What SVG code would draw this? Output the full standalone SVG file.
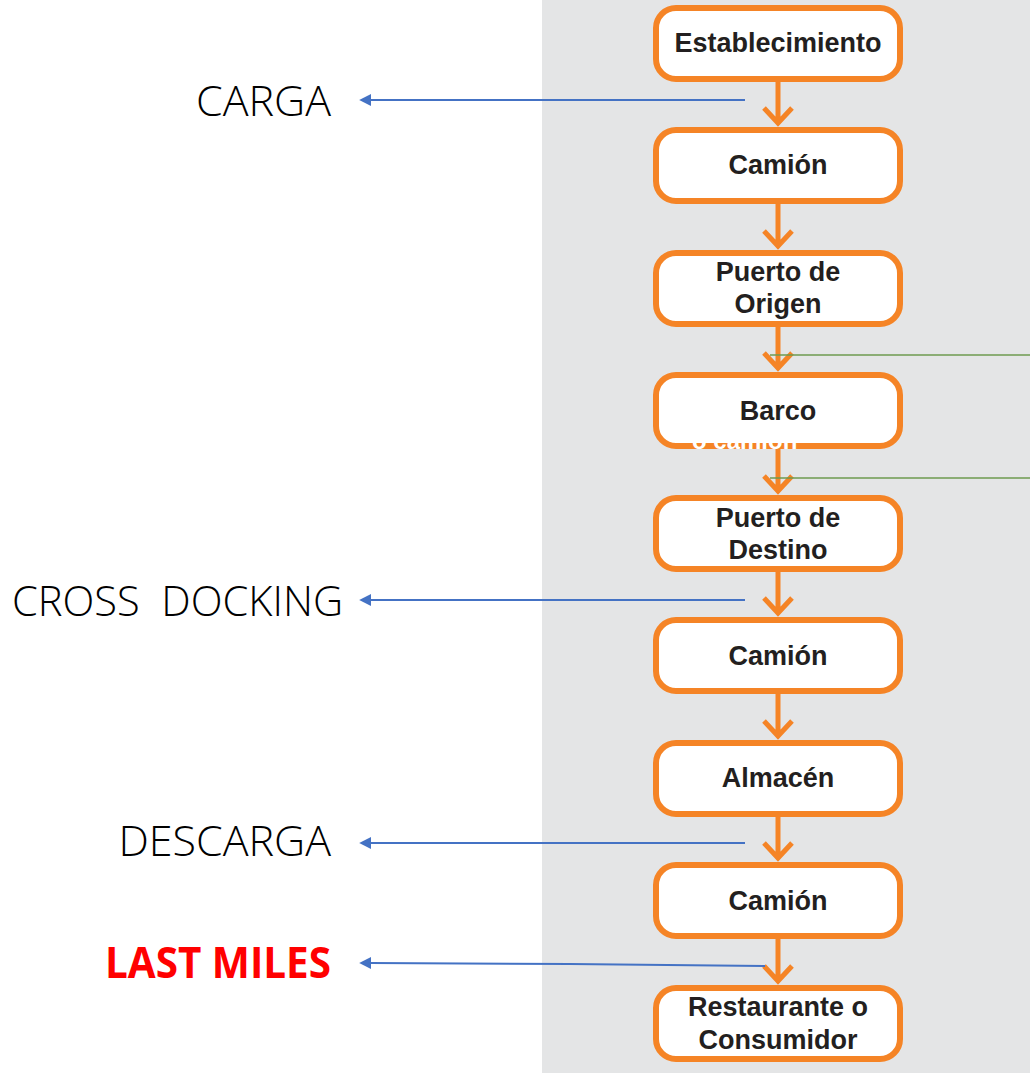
<svg xmlns="http://www.w3.org/2000/svg" width="1030" height="1076" viewBox="0 0 1030 1076">
<style>
.box{fill:#fff;stroke:#F58426;stroke-width:6}
.bt{font-family:"Liberation Sans",Arial,sans-serif;font-weight:bold;font-size:27px;fill:#231F20;text-anchor:middle}
.flow{stroke:#F58426;stroke-width:5;fill:none;stroke-linecap:butt}
.blue{stroke:#4472C4;stroke-width:2;fill:none}
.green{stroke:#6E9A4F;stroke-width:1.5;fill:none}
.lbl{font-family:"Open Sans","Liberation Sans",sans-serif;font-weight:300;font-size:43px;fill:#000;text-anchor:end}
</style>
<defs>
<marker id="ab" viewBox="0 0 10 10" refX="1" refY="5" markerWidth="6" markerHeight="6" orient="auto-start-reverse" markerUnits="strokeWidth">
<path d="M0,0 L10,5 L0,10 z" fill="#4472C4"/>
</marker>
<clipPath id="cb"><rect x="653" y="372" width="250" height="77"/></clipPath>
</defs>
<rect x="0" y="0" width="1030" height="1076" fill="#fff"/>
<rect x="542" y="0" width="488" height="1073" fill="#E4E5E6"/>

<g id="connectors">
<g id="flow">
<path class="flow" d="M778,82 V123 M764,108 L778,123 L792,108"/>
<path class="flow" d="M778,204 V246 M764,231 L778,246 L792,231"/>
<path class="flow" d="M778,327 V368 M764,353 L778,368 L792,353"/>
<path class="flow" d="M778,449 V491 M764,476 L778,491 L792,476"/>
<path class="flow" d="M778,572 V613 M764,598 L778,613 L792,598"/>
<path class="flow" d="M778,694 V736 M764,721 L778,736 L792,721"/>
<path class="flow" d="M778,817 V858 M764,843 L778,858 L792,843"/>
<path class="flow" d="M778,939 V981 M764,966 L778,981 L792,966"/>
</g>
<line class="blue" x1="745" y1="100" x2="370" y2="100" marker-end="url(#ab)"/>
<line class="blue" x1="745" y1="600" x2="370" y2="600" marker-end="url(#ab)"/>
<line class="blue" x1="745" y1="843" x2="370" y2="843" marker-end="url(#ab)"/>
<path class="blue" d="M765,966 L570,964 L370,963" marker-end="url(#ab)"/>
<line class="green" x1="770" y1="355" x2="1030" y2="355"/>
<line class="green" x1="770" y1="478" x2="1030" y2="478"/>
</g>

<g id="n1"><rect class="box" x="656" y="8" width="244" height="71" rx="20"/><text class="bt" x="778" y="52">Establecimiento</text></g>
<g id="n2"><rect class="box" x="656" y="130" width="244" height="71" rx="20"/><text class="bt" x="778" y="174">Camión</text></g>
<g id="n3"><rect class="box" x="656" y="253" width="244" height="71" rx="20"/><text class="bt" x="778" y="281">Puerto de</text><text class="bt" x="778" y="313">Origen</text></g>
<g id="n4"><rect class="box" x="656" y="375" width="244" height="71" rx="20"/><text class="bt" x="778" y="420">Barco</text>
<text x="692" y="449" clip-path="url(#cb)" font-family="Liberation Sans,Arial,sans-serif" font-weight="bold" font-size="24" fill="#fff">o camión</text></g>
<g id="n5"><rect class="box" x="656" y="498" width="244" height="71" rx="20"/><text class="bt" x="778" y="527">Puerto de</text><text class="bt" x="778" y="559">Destino</text></g>
<g id="n6"><rect class="box" x="656" y="620" width="244" height="71" rx="20"/><text class="bt" x="778" y="665">Camión</text></g>
<g id="n7"><rect class="box" x="656" y="743" width="244" height="71" rx="20"/><text class="bt" x="778" y="787">Almacén</text></g>
<g id="n8"><rect class="box" x="656" y="865" width="244" height="71" rx="20"/><text class="bt" x="778" y="910">Camión</text></g>
<g id="n9"><rect class="box" x="656" y="988" width="244" height="71" rx="20"/><text class="bt" x="778" y="1016">Restaurante o</text><text class="bt" x="778" y="1049">Consumidor</text></g>

<g id="labels">
<text class="lbl" x="331" y="116">CARGA</text>
<text class="lbl" x="343" y="616" style="white-space:pre" xml:space="preserve" textLength="331" lengthAdjust="spacingAndGlyphs">CROSS  DOCKING</text>
<text class="lbl" x="331" y="856">DESCARGA</text>
<text class="lbl" x="331" y="978" style="font-weight:bold;fill:#FF0000" textLength="226" lengthAdjust="spacingAndGlyphs">LAST MILES</text>
</g>
</svg>
